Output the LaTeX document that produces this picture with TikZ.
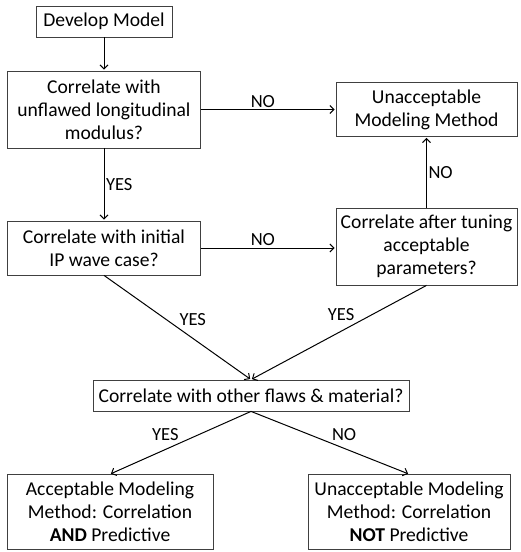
\documentclass[tikz,border=0pt]{standalone}
\usepackage{fontspec}
\setmainfont{Carlito}
\usetikzlibrary{positioning, arrows.meta}

\begin{document}
\begin{tikzpicture}[x=1pt, y=1pt, on grid, auto, shorten >=1pt,
    >={Straight Barb[length=4pt, width=8pt]},
    block/.style={draw=black!75, line width=0.8pt, align=center, inner sep=0pt,
                  font=\fontsize{19.6}{23}\selectfont},
    answer/.style={font=\fontsize{18.5}{21}\selectfont, inner sep=1.5pt},
    every edge/.style={draw, line width=1pt}]
   \useasboundingbox (0,0) rectangle (520,-552);

   \node[block, minimum width=136pt, minimum height=31pt] (dev) at (104,-21.5) {Develop Model};
   \node[block, minimum width=193pt, minimum height=77pt] (q_1) [below=88pt of dev]
        {Correlate with\\unflawed longitudinal\\modulus?};
   \node[block, minimum width=193pt, minimum height=54pt] (q_2) [below=138.5pt of q_1]
        {Correlate with initial\\IP wave case?};
   \node[block, minimum width=181pt, minimum height=54pt] (bad_1) [right=322.5pt of q_1]
        {Unacceptable\\Modeling Method};
   \node[block, minimum width=181pt, minimum height=77pt] (tune) [below=137pt of bad_1]
        {Correlate after tuning\\acceptable\\parameters?};
   \node[block, minimum width=316pt, minimum height=31pt] (q_3) at (251,-395.5)
        {Correlate with other flaws \& material?};
   \node[block, minimum width=206pt, minimum height=75pt] (good) [below left=116.5pt and 141pt of q_3]
        {Acceptable Modeling\\Method: Correlation\\\textbf{AND} Predictive};
   \node[block, minimum width=202pt, minimum height=75pt] (bad_2) [below right=116.5pt and 158pt of q_3]
        {Unacceptable Modeling\\Method: Correlation\\\textbf{NOT} Predictive};

    \path[->]
    (dev) edge (q_1)
    (q_1) edge node [answer] {YES} (q_2)
          edge node [answer, pos=0.46] {NO} (bad_1)
    (q_2.east) edge node [answer, pos=0.46] {NO} (q_2.east -| tune.west)
    (tune) edge node [answer, swap] {NO} (bad_1)
    (q_2.south) edge node [answer] {YES} (q_3.north)
    (tune.south) edge node [answer, anchor=south east, pos=0.4] {YES} (q_3.north)
    (q_3.south) edge node [answer, swap] {YES} (good.north)
                edge node [answer] {NO} (bad_2.north);
\end{tikzpicture}
\end{document}
